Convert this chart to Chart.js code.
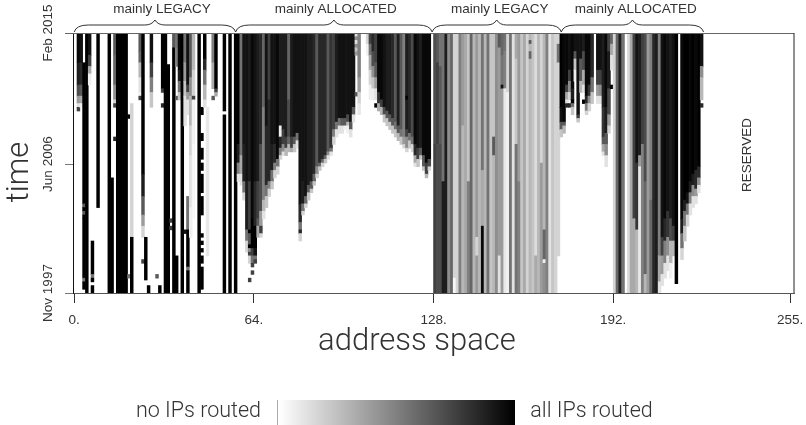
<!DOCTYPE html>
<html>
<head>
<meta charset="utf-8">
<style>body{margin:0;background:#fff}canvas{display:block}</style>
<script src="https://cdn.jsdelivr.net/npm/chart.js@4"></script>
</head>
<body>
<canvas id="heat" width="806" height="425"></canvas>
<script>
// each column: grey %, row it runs until, grey %, row it runs until ... (row 0 = Feb 2015, row 70 = Nov 1997)
const legacyLow = [
  [],[95,8,85,14,65,17,35,19,10,20,70,21],[90,8,80,14,60,17,30,19,5,20],[0,8,100,46,60,47,100,48,60,49,100,50,100,66,50,67,100,69],[100,70],
  [90,6,70,9,30,11,5,14],[0,56,100,65,50,66,100,67,0,68,100,70],[],[100,47],[],[],[],[100,70],[0,39,100,70],
  [60,6,55,14,40,18,15,19,70,20,0,28,80,29],[100,70],[100,70],[100,70],[100,70],[0,22,100,23,0,65,50,66],[0,19,15,55,100,70],[],[],
  [60,5,55,8,25,12,10,16,5,17,70,18],[100,38,85,44,60,49,35,52,15,55,0,61,70,62],[0,55,100,66.5],[0,68,100,70],[90,8,70,12,45,16,20,20],
  [],[0,65,60,66],[0,68,100,70],[100,15,70,16,0,19,80,20],[100,70],[0,8.5,100,70],[0,50,70,51,0,52,70,53],[60,4,100,70],
  [50,4,45,9,0,17,60,18,0,60,100,70],[95,10,85,13,50,16,20,18],[100,70],[50,8,35,13,20,17,10,25,0,53,90,54],
  [90,14,70,16,35,18,10,22,0,44,50,53,100,63,50,64,100,70],[60,12,40,17,25,25,15,33,10,47,5,55],[25,10,15,17,70,18,5,30,3,50],[],[100,70],
  [0,20,100,22,0,27,100,29,0,31,100,34,0,35,100,37,0,38,100,43,0,44,100,49,0,54,100,55,0,56,100,57,0,58,100,59,0,60,100,62,0,63,100,69],
  [100,7,80,10,50,14,25,18,10,20],[0,20,8,60],[],[45,8,30,15,0,17,60,18],[100,15,70,16,30,17],[],[],[100,21,0,22,100,70],[],[100,70],[],[100,70]
]
const allocatedLow = [
  [100,30,85,35,45,38,10,40],[50,33,30,38,10,41],[90,30,85,40,50,43,15,45],[90,40,85,53,50,56,15,59],
  [85,40,70,53,100,54,60,57,100,58,40,59,70,60,15,62,0,66,70,67],[95,50,100,58,70,60,50,62,70,63,0,64,70,65],[90,40,80,52,100,58,90,60,50,61,70,62],
  [85,40,70,50,60,52,30,55],[80,30,65,48,35,52,70,54,15,55],[55,20,45,45,25,48,10,50],[90,25,80,41,50,44,20,47],[70,18,80,40,45,42,15,44],
  [90,30,85,37,50,40,20,42],[90,30,80,35,45,37,15,39],[95,34,50,36,15,38],[85,25,5,28,80,31,45,33,15,34],[85,26,70,30,40,32,10,33],
  [85,28,70,31,25,33],[55,18,65,28,55,30,25,32],[85,28,70,31,30,32],[90,28,60,30,20,32],[90,27,50,29,10,31],[90,46,80,51,50,53,80,54,15,56],
  [90,40,85,46,50,48,15,49],[90,44,55,46,15,47],[85,41,60,43,20,45],[85,40,60,42,20,43],[80,38,55,40,20,41],[60,36,40,38,15,39],[80,35,55,36,20,37],
  [80,34,55,35,15,36],[80,33,55,34,20,35],[60,32,40,33,10,34],[75,31,50,32,10,33],[70,26,45,28,15,30],[85,24,50,26,10,28],[90,23,50,25,10,27],
  [90,23,60,25,10,27],[90,23,60,25,5,26],[90,22,65,24,25,25,5,27],[90,24,60,26,10,28],[90,20,60,22,10,24],[10,1,40,2,10,3,40,4,20,5,35,6,0,16,60,17],
  [45,12,35,16,15,19,8,22],[],[],[15,3,5,6],[70,3,50,6,30,10,15,14,5,18],[80,5,65,9,40,12,20,15,5,18],[70,8,60,12,35,15,10,18,0,19,100,20],
  [95,16,75,19,30,21],[95,18,70,20,25,22],[90,20,65,22,20,24],[85,21,60,23,20,25],[85,22,60,24,20,26],[80,23,60,25,20,27],[60,24,50,26,20,28],
  [85,25,60,27,25,29],[60,26,50,28,20,30],[45,28,35,30,15,31],[85,17,100,18,85,26,70,28,40,31,15,32],[80,27,50,29,20,31],[65,28,50,30,15,32],
  [95,30,80,33,30,35,10,36],[90,31,70,34,20,36],[85,31,60,33,20,34],[95,33,60,36,20,37],[95,35,70,38,25,39],[95,34,65,36,15,37],[]
]
const legacyHigh = [
  [65,30,70,70],[60,8,70,30,65,70],[50,9,60,30,65,70],[50,40,85,70],[85,70],[40,70],[55,70],[15,66,3,70],[15,70],[45,70],[35,25,25,70],[30,70],
  [20,40,45,70],[55,70],[25,70],[35,55,15,60,35,70],[25,70],[50,37,30,52,95,70],[25,70],[50,70],[20,70],[20,28,60,33,25,70],[40,70],[60,4,35,60,10,70],
  [55,6,50,14,90,15,35,70],[50,5,45,15,8,70],[15,16,5,70],[50,70],[10,70],[30,7,20,30,50,70],[35,40,45,70],[20,70],[30,70],[15,70],
  [25,2,60,3,25,5,55,7,25,70],[20,70],[12,60,30,70],[25,70],[15,35,35,70],[25,53,55,61,5,62,40,70],[45,70],[10,70],[20,70],[15,70],[15,3,50,8,15,60]
]
const allocatedHigh = [
  [100,20,90,24,60,26,20,28],[95,24,60,25,25,27],[95,14,70,16,30,18,10,19,80,20],[90,10,70,13,40,16,15,18,0,19,80,20],[95,15,85,18,100,19,50,20,20,22],
  [90,5,60,7,20,10,5,13],[90,22,70,23,20,24],[90,7,60,13,25,16],[85,5,65,10,30,14,10,16,0,18,100,19],[95,17,80,19,45,21,15,22],[95,14,75,17,40,19,15,21],
  [80,12,50,16,20,19],[],[90,10,70,14,35,17,10,19],[90,10,70,14,40,17,10,19],[85,20,75,28,60,30,30,32,10,33],[95,20,85,27,60,30,40,33,10,36],
  [70,5,85,15,65,22,35,25,15,27],[55,3,30,6,10,10,0,14,100,15],[15,70],[55,70],[85,70],[50,70],[],[12,70],[30,70],[70,50,30,70],[90,35,75,53,25,70],
  [85,33,35,36,8,70],[70,30,45,70],[65,40,55,65,25,70],[35,70],[45,45,55,70],[80,70],[85,70],[45,60,30,67,10,70],[90,55,70,60,35,65,10,68],
  [95,50,80,56,45,62,10,66],[90,48,75,55,40,60,10,64],[85,50,65,56,25,62,5,66],[90,52,70,56,25,60],[100,67.5],[],[95,50,85,54,50,58,15,61],
  [100,45,85,48,50,52,20,56],[100,43,90,46,50,49,15,52],[95,40,85,43,45,46,10,49],[100,38,85,41,40,44,10,47],[95,37,80,42,35,44,10,46],
  [100,36,80,39,40,41,10,43],[90,9,40,12,25,18,0,19,80,20]
]
const addressTicks = [0, 64, 128, 192, 255]
const timeTicks = [0, 35.3, 70]
const timeLabels = ["Feb 2015", "Jun 2006", "Nov 1997"]
const braces = [
  {from: 0, to: 57.5, labelAt: 31.3, label: "mainly LEGACY"},
  {from: 57.5, to: 127.5, labelAt: 93.2, label: "mainly ALLOCATED"},
  {from: 127.5, to: 173.5, labelAt: 151.6, label: "mainly LEGACY"},
  {from: 173.5, to: 224.2, labelAt: 200, label: "mainly ALLOCATED"},
]

const columns = [...legacyLow, ...allocatedLow, ...legacyHigh, ...allocatedHigh]
const cells = []
const cellColors = []
columns.forEach((col, c) => {
  let start = 0
  for (let i = 0; i < col.length; i += 2) {
    if (col[i] > 0) {
      const g = Math.round(255 * Math.pow(1 - col[i] / 100, 1.15))
      cells.push({x: c + 0.5, y: [start, col[i + 1]]})
      cellColors.push(`rgb(${g},${g},${g})`)
    }
    start = col[i + 1]
  }
})

const HELV = '"Liberation Sans"'
const LIGHT = 'Roboto'
const INK = "#333"

function drawText(ctx, text, x, y, font, rotate) {
  ctx.save()
  ctx.translate(x, y)
  if (rotate) ctx.rotate(-Math.PI / 2)
  ctx.font = font
  ctx.fillStyle = INK
  ctx.textAlign = "center"
  ctx.textBaseline = "middle"
  ctx.fillText(text, 0, 0)
  ctx.restore()
}

const extras = {
  id: "extras",
  afterDraw(chart) {
    const {ctx, chartArea: a, scales} = chart
    // rest of the frame
    ctx.strokeStyle = "#666"
    ctx.lineWidth = 1
    ctx.beginPath()
    ctx.moveTo(a.left - 8, 33.5)
    ctx.lineTo(a.right, 33.5)
    ctx.stroke()
    ctx.strokeStyle = "#222"
    ctx.beginPath()
    ctx.moveTo(a.right, 33)
    ctx.lineTo(a.right, a.bottom)
    ctx.stroke()

    // braces and their labels
    ctx.strokeStyle = "#333"
    braces.forEach(b => {
      const x0 = scales.x.getPixelForValue(b.from)
      const x1 = scales.x.getPixelForValue(b.to)
      const m = (x0 + x1) / 2
      ctx.beginPath()
      ctx.moveTo(x0, 32)
      ctx.quadraticCurveTo(x0 + 2, 25, x0 + 14, 25)
      ctx.lineTo(m - 10, 25)
      ctx.quadraticCurveTo(m - 3, 25, m, 20)
      ctx.quadraticCurveTo(m + 3, 25, m + 10, 25)
      ctx.lineTo(x1 - 14, 25)
      ctx.quadraticCurveTo(x1 - 2, 25, x1, 32)
      ctx.stroke()
      drawText(ctx, b.label, scales.x.getPixelForValue(b.labelAt), 9, `13.5px ${HELV}`)
    })

    drawText(ctx, "RESERVED", 747, 155, `13.5px ${HELV}`, true)
    drawText(ctx, "time", 20, 172, `300 31px ${LIGHT}`, true)
    drawText(ctx, "address space", 417, 342, `300 31px ${LIGHT}`)

    // colour key
    const grad = ctx.createLinearGradient(279, 0, 515, 0)
    grad.addColorStop(0, "#fff")
    grad.addColorStop(1, "#000")
    ctx.fillStyle = grad
    ctx.fillRect(279, 400, 236, 25)
    ctx.strokeStyle = "#aaa"
    ctx.beginPath()
    ctx.moveTo(277.5, 400)
    ctx.lineTo(277.5, 425)
    ctx.stroke()
    drawText(ctx, "no IPs routed", 198.5, 412, `300 21.5px ${LIGHT}`)
    drawText(ctx, "all IPs routed", 591.5, 412, `300 21.5px ${LIGHT}`)
  }
}

new Chart(document.getElementById("heat"), {
  type: "bar",
  data: {
    datasets: [{
      data: cells,
      backgroundColor: cellColors,
      borderWidth: 0,
      barPercentage: 1,
      categoryPercentage: 1,
    }]
  },
  options: {
    responsive: false,
    animation: false,
    layout: {padding: {top: 33, right: 12}},
    plugins: {legend: {display: false}, tooltip: {enabled: false}},
    scales: {
      x: {
        type: "linear",
        offset: false,
        min: -0.43,
        max: 256.4,
        afterFit: s => { s.height = 132; s.paddingLeft = 0; s.paddingRight = 0 },
        afterBuildTicks: s => { s.ticks = addressTicks.map(v => ({value: v})) },
        grid: {offset: false, drawOnChartArea: false, tickLength: 10, tickColor: "#333"},
        border: {color: "#555"},
        ticks: {
          autoSkip: false,
          maxRotation: 0,
          padding: 9,
          color: INK,
          font: {family: "Liberation Sans", size: 13.5},
          callback: v => v + ".",
        },
      },
      y: {
        type: "linear",
        reverse: true,
        min: 0,
        max: 70,
        afterFit: s => { s.width = 73 },
        afterBuildTicks: s => { s.ticks = timeTicks.map(v => ({value: v})) },
        grid: {drawOnChartArea: false, tickLength: 8, tickColor: "#777"},
        border: {color: "#111"},
        ticks: {
          autoSkip: false,
          minRotation: 90,
          maxRotation: 90,
          crossAlign: "center",
          padding: -12,
          color: INK,
          font: {family: "Liberation Sans", size: 13.5},
          callback: v => timeLabels[timeTicks.indexOf(v)],
        },
      },
    },
  },
  plugins: [extras],
})
</script>
</body>
</html>
